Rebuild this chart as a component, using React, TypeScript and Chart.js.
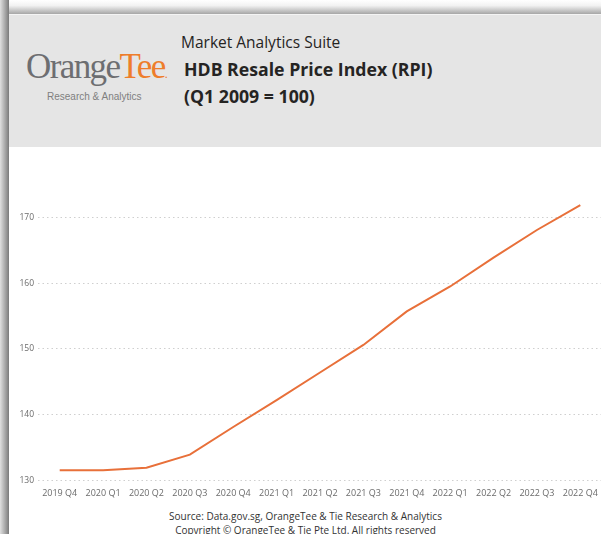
import React, { useEffect, useRef } from "react";
import { Chart, registerables } from "chart.js";

Chart.register(...registerables);

const quarters = [
  "2019 Q4", "2020 Q1", "2020 Q2", "2020 Q3", "2020 Q4", "2021 Q1", "2021 Q2",
  "2021 Q3", "2021 Q4", "2022 Q1", "2022 Q2", "2022 Q3", "2022 Q4",
];
const rpiValues = [131.5, 131.5, 131.9, 133.9, 138.1, 142.2, 146.4, 150.6, 155.7, 159.5, 163.9, 168.1, 171.9];
const yTickValues = [130, 140, 150, 160, 170];

const FONT = "'Open Sans', 'Noto Sans', sans-serif";

export default function App() {
  const canvasRef = useRef<HTMLCanvasElement | null>(null);

  useEffect(() => {
    document.body.style.margin = "0";
    document.body.style.overflow = "hidden";
    const ctx = canvasRef.current;
    if (!ctx) return;
    const chart = new Chart(ctx, {
      type: "line",
      data: {
        labels: quarters,
        datasets: [
          {
            label: "RPI",
            data: rpiValues,
            borderColor: "#e8703a",
            backgroundColor: "#e8703a",
            borderWidth: 2,
            pointRadius: 0,
            tension: 0,
          },
        ],
      },
      options: {
        animation: false,
        responsive: true,
        maintainAspectRatio: false,
        layout: { padding: { top: 8, right: 8, left: 0, bottom: 0 } },
        plugins: { legend: { display: false }, tooltip: { enabled: false } },
        scales: {
          x: {
            offset: true,
            grid: { display: false },
            border: { display: false },
            ticks: {
              color: "#6b6b6b",
              font: { family: FONT, size: 9 },
              maxRotation: 0,
              autoSkip: false,
              padding: 0,
            },
          },
          y: {
            min: 130,
            max: 172.5,
            afterBuildTicks: (scale: any) => {
              scale.ticks = yTickValues.map((v) => ({ value: v }));
            },
            afterFit: (scale: any) => {
              scale.width = 28;
            },
            grid: {
              color: "#cfcfcf",
              lineWidth: 1,
              drawTicks: false,
            },
            border: { display: false, dash: [1.5, 3] },
            ticks: {
              color: "#6b6b6b",
              font: { family: FONT, size: 8.5 },
              padding: 4,
            },
          },
        },
      },
    });
    return () => chart.destroy();
  }, []);

  return (
    <div
      style={{
        position: "fixed",
        left: 0,
        top: 0,
        width: 601,
        height: 534,
        overflow: "hidden",
        background: "#ffffff",
      }}
    >
      <div
        style={{
          position: "absolute",
          left: 0,
          top: 0,
          width: 601,
          height: 14,
          background: "linear-gradient(#ffffff, #f2f2f2 40%, #a6a6a6)",
        }}
      />
      <div
        style={{
          position: "absolute",
          left: 0,
          top: 0,
          width: 9,
          height: 534,
          background: "linear-gradient(90deg, #e0e0e0, #9a9a9a 70%, #7a7a7a)",
        }}
      />
      <div
        style={{
          position: "absolute",
          left: 9,
          top: 14,
          width: 600,
          height: 530,
          background: "#ffffff",
          borderTop: "1px solid #f4f4f4",
        }}
      >
        <div
          style={{
            position: "absolute",
            left: 0,
            top: 0,
            width: 600,
            height: 132,
            background: "#e5e5e5",
          }}
        >
          <div
            style={{
              position: "absolute",
              left: 17,
              top: 33,
              fontFamily: "'Liberation Serif', 'DejaVu Serif', serif",
              fontSize: 35,
              letterSpacing: -1.6,
              lineHeight: "38px",
              color: "#6d6e71",
              whiteSpace: "nowrap",
            }}
          >
            Orange<span style={{ color: "#ee7d2b" }}>Tee</span>
            <span style={{ color: "#ee7d2b", fontSize: 12 }}>.</span>
          </div>
          <div
            style={{
              position: "absolute",
              left: 38,
              top: 76,
              fontFamily: "'Liberation Sans', Arial, sans-serif",
              fontSize: 10,
              color: "#7f7f7f",
              whiteSpace: "nowrap",
            }}
          >
            Research &amp; Analytics
          </div>
          <div
            style={{
              position: "absolute",
              left: 172,
              top: 16,
              fontFamily: FONT,
              fontSize: 15.5,
              color: "#252423",
              whiteSpace: "nowrap",
            }}
          >
            Market Analytics Suite
          </div>
          <div
            style={{
              position: "absolute",
              left: 175,
              top: 41,
              fontFamily: FONT,
              fontSize: 17.7,
              fontWeight: 700,
              color: "#252423",
              lineHeight: "27px",
              whiteSpace: "nowrap",
            }}
          >
            HDB Resale Price Index (RPI)
            <br />
            (Q1 2009 = 100)
          </div>
        </div>
        <div
          style={{
            position: "absolute",
            left: 1,
            top: 177,
            width: 600,
            height: 307,
          }}
        >
          <canvas ref={canvasRef} />
        </div>
        <div
          style={{
            position: "absolute",
            left: 0,
            top: 494,
            width: 593,
            textAlign: "center",
            fontFamily: FONT,
            fontSize: 10,
            lineHeight: "14px",
            color: "#333333",
          }}
        >
          Source: Data.gov.sg, OrangeTee &amp; Tie Research &amp; Analytics
          <br />
          Copyright © OrangeTee &amp; Tie Pte Ltd. All rights reserved
        </div>
      </div>
    </div>
  );
}
